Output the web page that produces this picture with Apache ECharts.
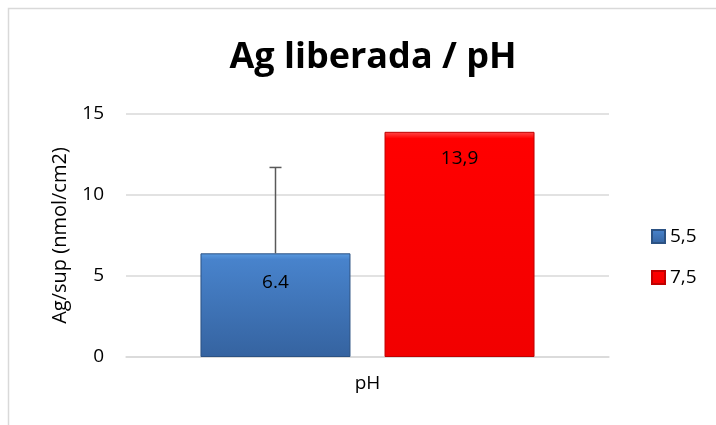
<!DOCTYPE html>
<html>
<head>
<meta charset="utf-8">
<script src="https://cdn.jsdelivr.net/npm/echarts@6/dist/echarts.min.js"></script>
<style>
  html, body { margin: 0; padding: 0; background: #fff; }
  #chart { width: 716px; height: 425px; }
</style>
</head>
<body>
<div id="chart"></div>
<script>
// datos
const categories = ["pH"];
const seriesNames = ["5,5", "7,5"];
const values55 = [6.4];
const values75 = [13.9];
const labels55 = ["6.4"];
const labels75 = ["13,9"];
const errorTop55 = [11.7];

const FONT = "Open Sans";

const chart = echarts.init(document.getElementById("chart"));

chart.setOption({
  animation: false,
  backgroundColor: "#fff",
  textStyle: { fontFamily: FONT },
  title: {
    text: "Ag liberada / pH",
    left: 368,
    textAlign: "center",
    top: 35,
    textStyle: { fontFamily: FONT, fontSize: 36, fontWeight: "bold", color: "#000" }
  },
  graphic: [{
    type: "rect",
    shape: { x: 8.5, y: 8.5, width: 730, height: 440 },
    style: { fill: null, stroke: "#d9d9d9", lineWidth: 1.5 },
    silent: true
  }],
  legend: {
    orient: "vertical",
    left: 646,
    top: 222,
    itemWidth: 13,
    itemHeight: 13,
    itemGap: 22,
    icon: "rect",
    textStyle: { fontFamily: FONT, fontSize: 19, color: "#000" },
    data: seriesNames
  },
  grid: { left: 126, right: 107, top: 114, bottom: 68 },
  xAxis: {
    type: "category",
    data: categories,
    axisLine: { lineStyle: { color: "#d9d9d9", width: 1.5 } },
    axisTick: { show: false },
    axisLabel: { fontFamily: FONT, fontSize: 19, color: "#000", margin: 17 }
  },
  yAxis: {
    type: "value",
    min: 0,
    max: 15,
    interval: 5,
    name: "Ag/sup (nmol/cm2)",
    nameLocation: "middle",
    nameGap: 56,
    nameTextStyle: { fontFamily: FONT, fontSize: 20, color: "#000" },
    axisLine: { show: false },
    axisTick: { show: false },
    axisLabel: { fontFamily: FONT, fontSize: 19, color: "#000", margin: 22 },
    splitLine: { lineStyle: { color: "#d9d9d9", width: 1.5 } }
  },
  series: [
    {
      name: seriesNames[0],
      type: "bar",
      data: values55,
      barWidth: 150,
      barGap: "22.7%",
      itemStyle: {
        color: new echarts.graphic.LinearGradient(0, 0, 0, 1, [
          { offset: 0, color: "#5b9be0" },
          { offset: 0.06, color: "#4883cc" },
          { offset: 1, color: "#3563a0" }
        ]),
        borderColor: "#2c5283",
        borderWidth: 1
      },
      label: {
        show: true,
        position: "insideTop",
        distance: 20,
        fontFamily: FONT,
        fontSize: 19,
        color: "#000",
        formatter: (p) => labels55[p.dataIndex]
      },
      z: 2
    },
    {
      name: seriesNames[1],
      type: "bar",
      data: values75,
      barWidth: 150,
      barGap: "22.7%",
      itemStyle: {
        color: new echarts.graphic.LinearGradient(0, 0, 0, 1, [
          { offset: 0, color: "#ff4a4a" },
          { offset: 0.03, color: "#ff0000" },
          { offset: 1, color: "#f20000" }
        ]),
        borderColor: "#c00000",
        borderWidth: 1
      },
      label: {
        show: true,
        position: "insideTop",
        distance: 17,
        fontFamily: FONT,
        fontSize: 19,
        color: "#000",
        formatter: (p) => labels75[p.dataIndex]
      },
      z: 2
    },
    {
      // barra de error (solo hacia arriba) sobre la serie 5,5
      type: "custom",
      name: "error",
      data: errorTop55.map((v, i) => [i, values55[i], v]),
      renderItem: function (params, api) {
        const base = api.coord([api.value(0), api.value(1)]);
        const top = api.coord([api.value(0), api.value(2)]);
        // desplazar al centro de la primera barra
        const x = base[0] - 92;
        return {
          type: "group",
          children: [
            { type: "line", shape: { x1: x, y1: base[1], x2: x, y2: top[1] },
              style: { stroke: "#595959", lineWidth: 1.5 } },
            { type: "line", shape: { x1: x - 6, y1: top[1], x2: x + 6, y2: top[1] },
              style: { stroke: "#595959", lineWidth: 1.5 } }
          ]
        };
      },
      z: 3,
      silent: true
    }
  ]
});
</script>
</body>
</html>
